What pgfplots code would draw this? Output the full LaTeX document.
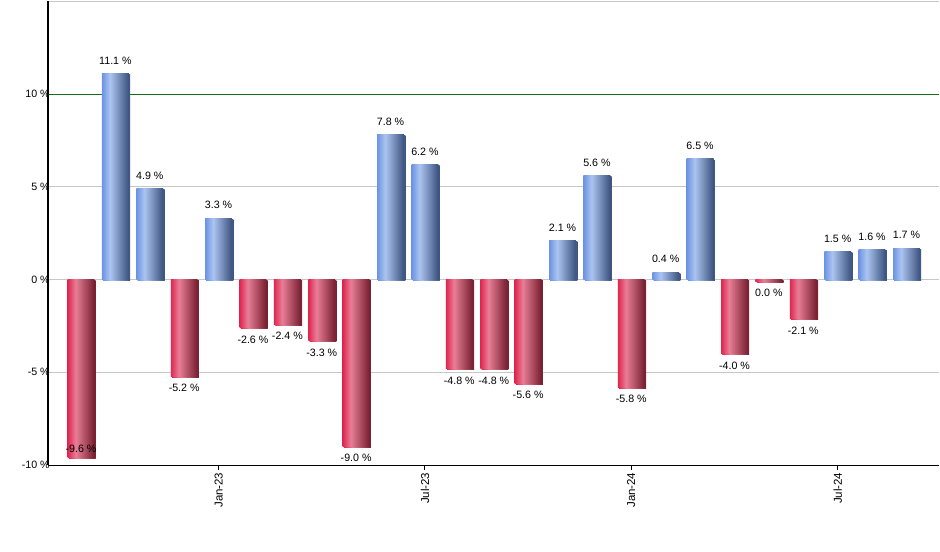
\documentclass[border=0pt]{standalone}
\usepackage{pgfplots}
\pgfplotsset{compat=1.18}
\usepackage{fontspec}
\setmainfont{Liberation Sans}
\usetikzlibrary{shadows}
\definecolor{bl1}{RGB}{108,148,228}
\definecolor{bl2}{RGB}{172,196,240}
\definecolor{bl3}{RGB}{58,82,125}
\definecolor{rd1}{RGB}{224,38,80}
\definecolor{rd2}{RGB}{232,126,150}
\definecolor{rd3}{RGB}{118,30,48}
\definecolor{grn}{RGB}{20,110,20}
\pgfdeclarehorizontalshading{blueshade}{100bp}{color(0bp)=(bl1); color(25bp)=(bl1); color(40bp)=(bl2); color(75bp)=(bl3); color(100bp)=(bl3)}
\pgfdeclarehorizontalshading{redshade}{100bp}{color(0bp)=(rd1); color(25bp)=(rd1); color(40bp)=(rd2); color(75bp)=(rd3); color(100bp)=(rd3)}

\pgfplotsset{
  posbar/.style={draw=none, shade, shading=blueshade,
    drop shadow={shadow xshift=1pt, shadow yshift=-0.8pt, fill=black!40, opacity=1},
    nodes near coords align={anchor=south}, every node near coord/.append style={yshift=3.5pt}},
  negbar/.style={draw=none, shade, shading=redshade,
    drop shadow={shadow xshift=1pt, shadow yshift=-0.8pt, fill=black!40, opacity=1},
    nodes near coords align={anchor=north}, every node near coord/.append style={yshift=-2.5pt}},
  lowbar/.style={draw=none, shade, shading=redshade,
    drop shadow={shadow xshift=1pt, shadow yshift=-0.8pt, fill=black!40, opacity=1},
    nodes near coords align={anchor=south}},
}
% x, value, label
\newcommand{\pbar}[3]{\addplot[posbar] coordinates {(#1,#2) [#3]};}
\newcommand{\nbar}[3]{\addplot[negbar] coordinates {(#1,#2) [#3]};}
\newcommand{\lbar}[3]{\addplot[lowbar] coordinates {(#1,#2) [#3]};}

\begin{document}
\begin{tikzpicture}
\path (-36pt,-64.5pt) rectangle (669pt,348pt);
\begin{axis}[
  at={(0pt,0pt)}, anchor=south west,
  scale only axis, width=669pt, height=348pt,
  xmin=-0.96, xmax=24.96, ymin=-10, ymax=15,
  axis lines*=left,
  axis line style={black, line width=0.8pt},
  /pgf/number format/assume math mode=true,
  font=\fontsize{8}{9.5}\selectfont,
  ytick={-10,-5,0,5,15},
  yticklabels={-10 \%,-5 \%,0 \%,5 \%,{}},
  extra y ticks={10},
  extra y tick labels={10 \%},
  extra y tick style={grid style={grn, line width=0.8pt}},
  ymajorgrids,
  grid style={black!22, line width=0.8pt},
  ytick style={draw=none},
  y tick label style={inner sep=1pt, xshift=6.5pt},
  xtick={4,10,16,22},
  xticklabels={Jan-23,Jul-23,Jan-24,Jul-24},
  x tick label style={rotate=90, anchor=east, inner sep=1.5pt, font=\fontsize{8.6}{10}\selectfont},
  xtick style={draw=black, line width=0.8pt},
  tick align=outside,
  major tick length=4pt,
  ybar, bar width=0.78, bar shift=0pt,
  clip=false,
  point meta=explicit,
  nodes near coords={\pgfmathprintnumber[fixed,fixed zerofill,precision=1]{\pgfplotspointmeta} \%},
  every node near coord/.append style={text=black, font=\fontsize{8}{9.5}\selectfont},
]
\lbar{0}{-9.6}{-9.6}
\pbar{1}{11.1}{11.1}
\pbar{2}{4.9}{4.9}
\nbar{3}{-5.2}{-5.2}
\pbar{4}{3.3}{3.3}
\nbar{5}{-2.6}{-2.6}
\nbar{6}{-2.4}{-2.4}
\nbar{7}{-3.3}{-3.3}
\nbar{8}{-9.0}{-9.0}
\pbar{9}{7.8}{7.8}
\pbar{10}{6.2}{6.2}
\nbar{11}{-4.8}{-4.8}
\nbar{12}{-4.8}{-4.8}
\nbar{13}{-5.6}{-5.6}
\pbar{14}{2.1}{2.1}
\pbar{15}{5.6}{5.6}
\nbar{16}{-5.8}{-5.8}
\pbar{17}{0.4}{0.4}
\pbar{18}{6.5}{6.5}
\nbar{19}{-4.0}{-4.0}
\nbar{20}{-0.08}{0.0}
\nbar{21}{-2.1}{-2.1}
\pbar{22}{1.5}{1.5}
\pbar{23}{1.6}{1.6}
\pbar{24}{1.7}{1.7}
\end{axis}
\end{tikzpicture}
\end{document}
